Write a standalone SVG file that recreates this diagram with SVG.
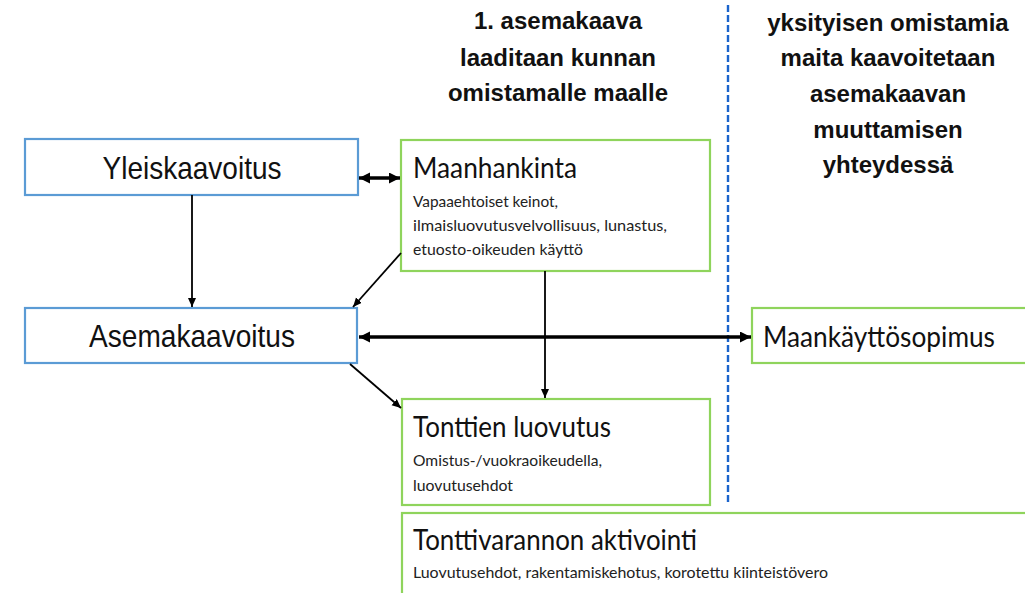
<svg xmlns="http://www.w3.org/2000/svg" width="1025" height="593" viewBox="0 0 1025 593">
<style>
.bg{fill:#ffffff}
.blue{fill:#ffffff;stroke:#5B9BD5;stroke-width:2.2}
.green{fill:#ffffff;stroke:#8FD45C;stroke-width:2.2}
.big{font-family:"Liberation Sans Narrow","Liberation Sans",Arial,sans-serif;font-size:32px;fill:#111}
.head{font-family:"Liberation Sans",Arial,sans-serif;font-size:24px;font-weight:bold;fill:#111;text-anchor:middle}
.title{font-family:Lato,"Noto Sans",sans-serif;font-size:28px;fill:#111}
.sub{font-family:Lato,"Noto Sans",sans-serif;font-size:15px;fill:#222}
.thin{stroke:#000;stroke-width:1.8;fill:none}
.thick{stroke:#000;stroke-width:3.4;fill:none}
.divider{stroke:#1A64CC;stroke-width:2.4;stroke-dasharray:7 3;fill:none}
</style>
<defs>
<marker id="ah" markerUnits="userSpaceOnUse" markerWidth="10" markerHeight="9" refX="9" refY="4" orient="auto">
<path d="M0,0 L9,4 L0,8 z" fill="#000"/>
</marker>
<marker id="ahb" markerUnits="userSpaceOnUse" markerWidth="12" markerHeight="12" refX="11" refY="5.5" orient="auto-start-reverse">
<path d="M0,0 L11,5.5 L0,11 z" fill="#000"/>
</marker>
</defs>
<rect class="bg" x="0" y="0" width="1025" height="593"/>

<g id="headers">
<text class="head" x="558" y="29">1. asemakaava</text>
<text class="head" x="558" y="66">laaditaan kunnan</text>
<text class="head" x="558" y="101">omistamalle maalle</text>
<text class="head" x="888" y="31">yksityisen omistamia</text>
<text class="head" x="888" y="66">maita kaavoitetaan</text>
<text class="head" x="888" y="102">asemakaavan</text>
<text class="head" x="888" y="138">muuttamisen</text>
<text class="head" x="888" y="173">yhteydessä</text>
</g>

<g id="divider">
<line class="divider" x1="728" y1="5" x2="728" y2="505"/>
</g>

<g id="yleiskaavoitus">
<rect class="blue" x="25" y="139" width="333" height="56"/>
<text class="big" x="192" y="179" text-anchor="middle" textLength="179" lengthAdjust="spacingAndGlyphs">Yleiskaavoitus</text>
</g>

<g id="asemakaavoitus">
<rect class="blue" x="25" y="308" width="332" height="55"/>
<text class="big" x="192" y="347" text-anchor="middle" textLength="206" lengthAdjust="spacingAndGlyphs">Asemakaavoitus</text>
</g>

<g id="maanhankinta">
<rect class="green" x="401" y="140" width="309" height="131"/>
<text class="title" x="413" y="178" textLength="164" lengthAdjust="spacingAndGlyphs">Maanhankinta</text>
<text class="sub" x="413" y="207" textLength="145" lengthAdjust="spacingAndGlyphs">Vapaaehtoiset keinot,</text>
<text class="sub" x="413" y="231" textLength="254" lengthAdjust="spacingAndGlyphs">ilmaisluovutusvelvollisuus, lunastus,</text>
<text class="sub" x="413" y="255" textLength="170" lengthAdjust="spacingAndGlyphs">etuosto-oikeuden käyttö</text>
</g>

<g id="maankayttosopimus">
<rect class="green" x="752" y="308" width="290" height="55"/>
<text class="title" x="763" y="347" textLength="232" lengthAdjust="spacingAndGlyphs">Maankäyttösopimus</text>
</g>

<g id="tonttien-luovutus">
<rect class="green" x="402" y="399" width="308" height="106"/>
<text class="title" x="413" y="437" textLength="198" lengthAdjust="spacingAndGlyphs">Tonttien luovutus</text>
<text class="sub" x="413" y="466" textLength="189" lengthAdjust="spacingAndGlyphs">Omistus-/vuokraoikeudella,</text>
<text class="sub" x="413" y="491" textLength="100" lengthAdjust="spacingAndGlyphs">luovutusehdot</text>
</g>

<g id="tonttivarannon-aktivointi">
<rect class="green" x="402" y="513" width="640" height="100"/>
<text class="title" x="413" y="550" textLength="284" lengthAdjust="spacingAndGlyphs">Tonttivarannon aktivointi</text>
<text class="sub" x="413" y="578" textLength="415" lengthAdjust="spacingAndGlyphs">Luovutusehdot, rakentamiskehotus, korotettu kiinteistövero</text>
</g>

<g id="connectors">
<line class="thick" x1="359" y1="178" x2="400" y2="178" marker-start="url(#ahb)" marker-end="url(#ahb)"/>
<line class="thin" x1="192" y1="195" x2="192" y2="307" marker-end="url(#ah)"/>
<line class="thin" x1="401" y1="253" x2="353" y2="307" marker-end="url(#ah)"/>
<line class="thin" x1="545" y1="271" x2="545" y2="398" marker-end="url(#ah)"/>
<line class="thick" x1="359" y1="337" x2="751" y2="337" marker-start="url(#ahb)" marker-end="url(#ahb)"/>
<line class="thin" x1="350" y1="364" x2="401" y2="408" marker-end="url(#ah)"/>
</g>
</svg>
